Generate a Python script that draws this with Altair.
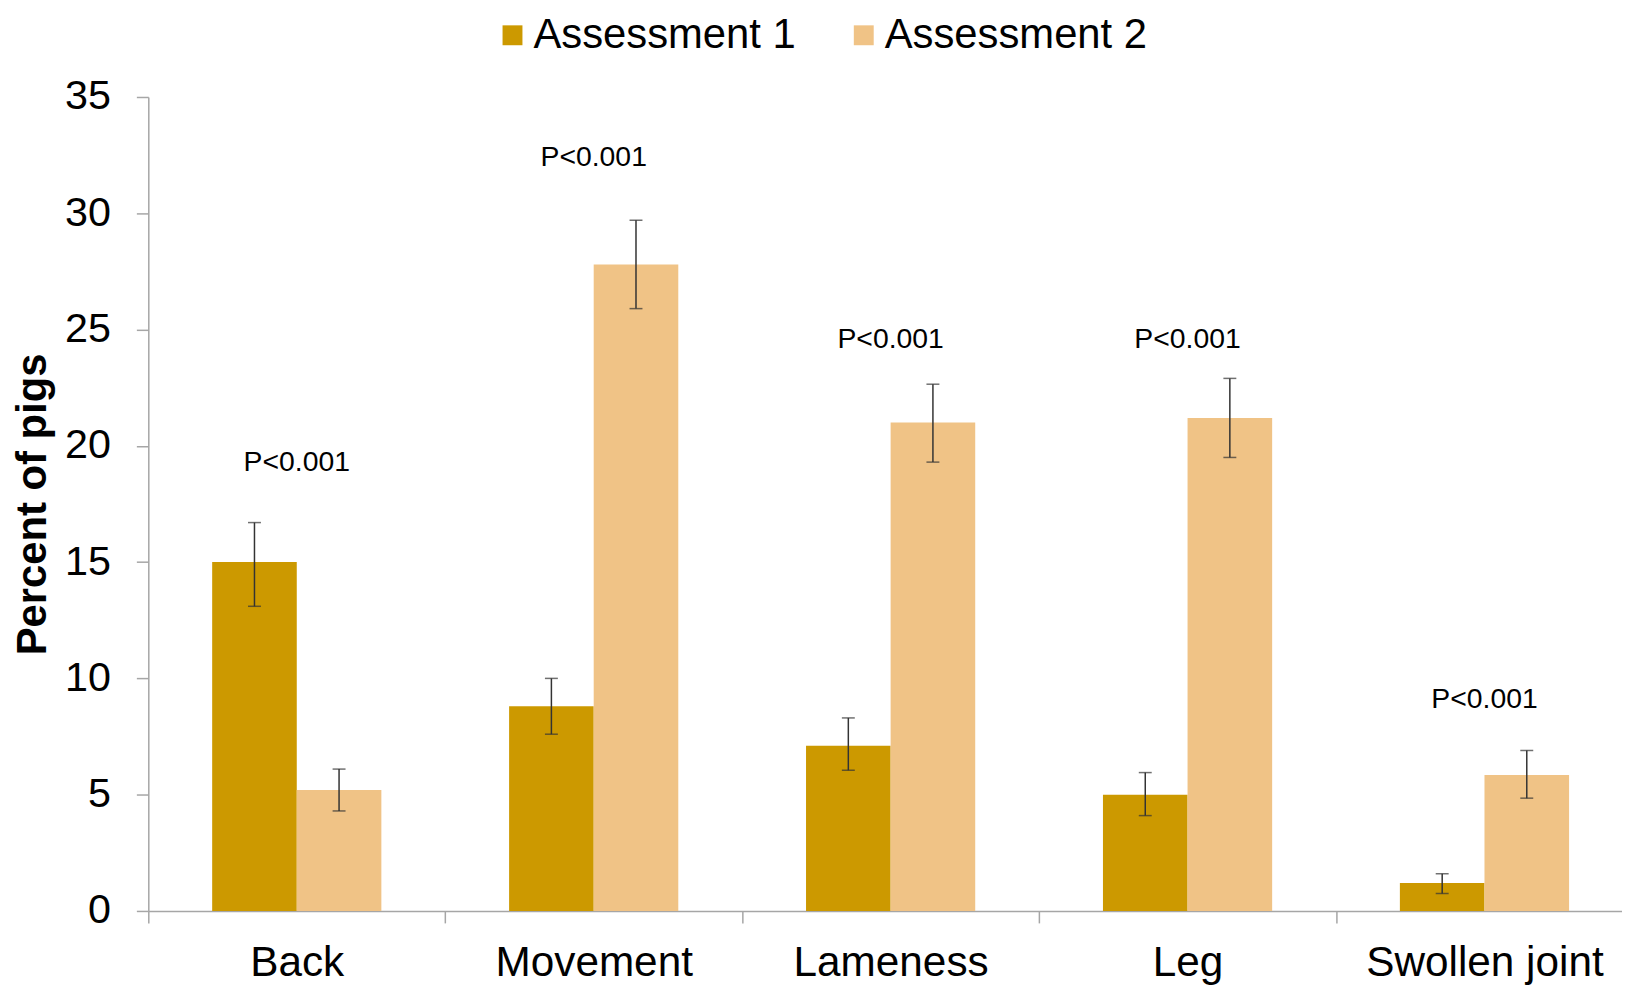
import altair as alt
import pandas as pd

categories = ["Back", "Movement", "Lameness", "Leg", "Swollen joint"]
series = ["Assessment 1", "Assessment 2"]
a1_values = [15.0, 8.8, 7.1, 5.0, 1.2]
a1_upper = [16.7, 10.0, 8.3, 5.95, 1.6]
a1_lower = [13.1, 7.6, 6.05, 4.1, 0.75]
a2_values = [5.2, 27.8, 21.0, 21.2, 5.85]
a2_upper = [6.1, 29.7, 22.65, 22.9, 6.9]
a2_lower = [4.3, 25.9, 19.3, 19.5, 4.85]
p_labels = ["P<0.001", "P<0.001", "P<0.001", "P<0.001", "P<0.001"]
p_label_y = [19.3, 32.4, 24.6, 24.6, 9.1]

colors = ["#CC9900", "#F0C386"]
FONT = "Liberation Sans"

rows = []
for i, c in enumerate(categories):
    rows.append({"cat": c, "series": series[0], "value": a1_values[i], "hi": a1_upper[i], "lo": a1_lower[i]})
    rows.append({"cat": c, "series": series[1], "value": a2_values[i], "hi": a2_upper[i], "lo": a2_lower[i]})
df = pd.DataFrame(rows)
labels_df = pd.DataFrame({"cat": categories, "text": p_labels, "y": p_label_y})

x_enc = alt.X(
    "cat:N",
    sort=categories,
    scale=alt.Scale(range=[0, 1492], paddingInner=0, paddingOuter=0),
    axis=alt.Axis(
        title=None, labelAngle=0, labelFontSize=42.5, labelFont=FONT, labelColor="#000000",
        tickBand="extent", tickSize=12, tickColor="#A6A6A6", domainColor="#A6A6A6",
        domainWidth=1.5, tickWidth=1.5, labelPadding=19, grid=False, labelLimit=0,
    ),
)
y_scale = alt.Scale(domain=[0, 35], nice=False)
xoff = alt.XOffset("series:N", sort=series, scale=alt.Scale(paddingInner=0, paddingOuter=0.755))

bars = alt.Chart(df).mark_bar().encode(
    x=x_enc,
    xOffset=xoff,
    y=alt.Y(
        "value:Q",
        scale=y_scale,
        axis=alt.Axis(
            title="Percent of pigs", titleFontSize=42, titleFont=FONT, titleFontWeight="bold",
            titleColor="#000000", titlePadding=10,
            values=[0, 5, 10, 15, 20, 25, 30, 35], labelFontSize=41.5, labelFont=FONT,
            labelColor="#000000", tickSize=12, tickColor="#A6A6A6", domainColor="#A6A6A6",
            domainWidth=1.5, tickWidth=1.5, labelPadding=26, grid=False,
        ),
    ),
    color=alt.Color(
        "series:N",
        sort=series,
        scale=alt.Scale(domain=series, range=colors),
        legend=alt.Legend(
            title=None, orient="none", direction="horizontal", legendX=345, legendY=-83,
            symbolType="square", symbolSize=400, symbolStrokeWidth=0, labelFontSize=42,
            labelFont=FONT, labelColor="#000000", labelOffset=0, columnPadding=47,
            labelLimit=0,
        ),
    ),
)

rules = alt.Chart(df).mark_rule(color="#333333", strokeWidth=1.5).encode(
    x=alt.X("cat:N", sort=categories),
    xOffset=xoff,
    y=alt.Y("lo:Q", scale=y_scale),
    y2="hi:Q",
)
caps_hi = alt.Chart(df).mark_tick(color="#333333", size=13, thickness=1.5).encode(
    x=alt.X("cat:N", sort=categories),
    xOffset=xoff,
    y=alt.Y("hi:Q", scale=y_scale),
)
caps_lo = alt.Chart(df).mark_tick(color="#333333", size=13, thickness=1.5).encode(
    x=alt.X("cat:N", sort=categories),
    xOffset=xoff,
    y=alt.Y("lo:Q", scale=y_scale),
)
ptext = alt.Chart(labels_df).mark_text(fontSize=28.5, font=FONT, color="#000000", baseline="middle").encode(
    x=alt.X("cat:N", sort=categories),
    y=alt.Y("y:Q", scale=y_scale),
    text="text:N",
)

chart = alt.layer(bars, rules, caps_hi, caps_lo, ptext).properties(
    width=1481,
    height=818,
    autosize=alt.AutoSizeParams(type="none"),
    padding={"left": 141, "top": 87, "right": 0, "bottom": 74},
).configure_view(stroke=None)

chart.save("out.html", embed_options={"renderer": "svg", "actions": False})
